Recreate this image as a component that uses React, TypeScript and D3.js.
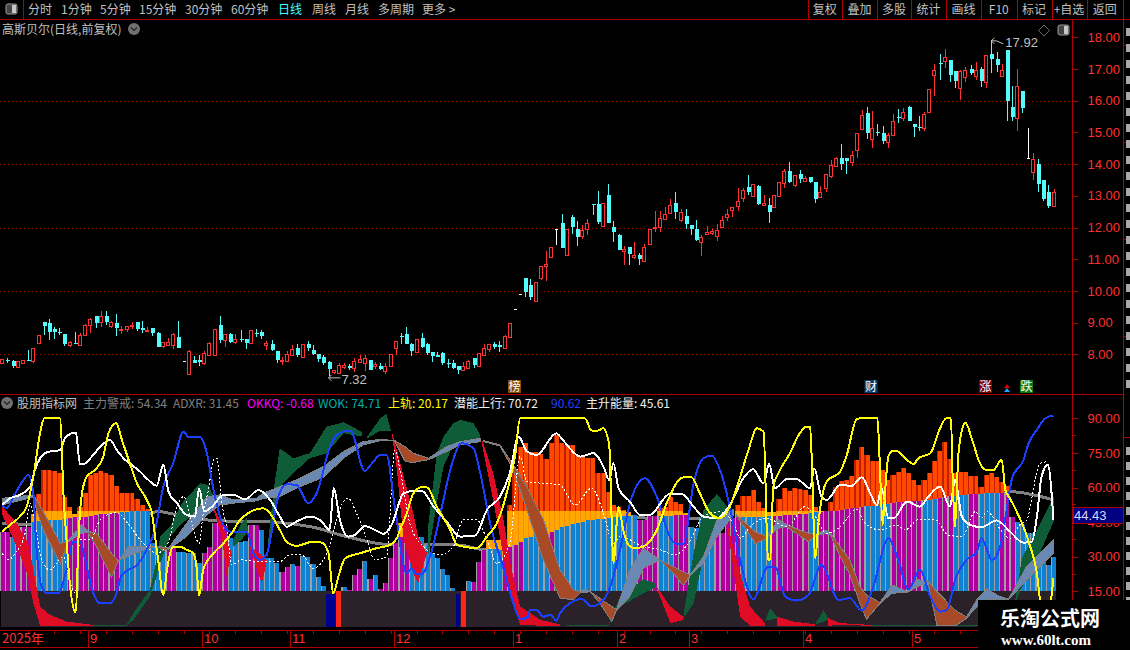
import { useEffect, useRef } from 'react'
import * as d3 from 'd3'

type Pt = [number, number]
type BandPt = [number, number, number]

// open, close, high, low
const candles: number[][] = [
  [7.71,7.84,7.84,7.71],[7.81,7.79,7.88,7.73],[7.79,7.63,7.82,7.58],[7.61,7.79,7.79,7.61],[7.73,7.81,7.81,7.69],
  [7.82,7.80,8.14,7.79],[7.79,8.19,8.19,7.74],[8.36,8.61,8.61,8.36],[9.01,8.89,9.01,8.61],[8.99,8.71,9.12,8.45],
  [8.80,8.71,8.85,8.48],[8.70,8.68,8.82,8.61],[8.64,8.32,8.64,8.27],[8.29,8.39,8.42,8.23],[8.35,8.32,8.71,8.31],
  [8.29,8.60,8.66,8.29],[8.62,8.92,8.95,8.62],[8.91,9.11,9.14,8.68],[9.20,8.99,9.20,8.83],[9.02,9.20,9.37,8.86],
  [9.20,9.02,9.37,8.93],[8.89,9.02,9.05,8.83],[8.99,8.83,9.27,8.58],[8.78,8.80,8.89,8.64],[8.80,8.88,8.88,8.71],
  [8.88,8.93,9.02,8.80],[9.02,8.80,9.02,8.74],[8.83,8.77,9.05,8.67],[8.74,8.78,8.85,8.74],[8.83,8.67,8.83,8.58],
  [8.67,8.23,8.70,8.23],[8.26,8.39,8.39,8.20],[8.29,8.39,8.52,8.29],[8.29,8.64,8.67,8.17],[8.55,8.20,9.05,8.20],
  [7.78,7.78,7.78,7.78],[7.39,8.09,8.12,7.39],[7.82,7.73,7.95,7.73],[7.82,7.76,7.98,7.63],[7.73,8.04,8.10,7.66],
  [7.98,8.36,8.39,7.98],[7.98,8.80,8.80,7.98],[8.93,8.45,9.21,8.36],[8.45,8.64,8.64,8.23],[8.64,8.39,8.67,8.36],
  [8.39,8.48,8.64,8.33],[8.48,8.45,8.77,8.39],[8.48,8.36,8.48,8.17],[8.36,8.77,8.77,8.36],[8.67,8.64,8.80,8.55],
  [8.71,8.58,8.77,8.48],[8.29,8.36,8.42,8.14],[8.33,8.14,8.45,8.10],[8.10,7.82,8.10,7.73],[7.80,7.82,7.90,7.66],
  [7.79,8.01,8.11,7.76],[7.99,8.16,8.29,7.98],[8.20,7.98,8.33,7.92],[7.92,8.33,8.33,7.92],[8.33,8.20,8.42,8.11],
  [8.14,8.01,8.29,7.98],[8.01,7.85,8.01,7.76],[7.92,7.73,7.98,7.66],[7.76,7.54,7.79,7.32],[7.44,7.50,7.50,7.39],
  [7.41,7.66,7.72,7.41],[7.60,7.67,7.72,7.53],[7.63,7.57,7.69,7.50],[7.57,7.79,7.88,7.44],[7.76,7.85,7.98,7.76],
  [7.73,7.88,7.98,7.47],[7.82,7.50,7.82,7.50],[7.63,7.69,7.76,7.54],[7.63,7.54,7.72,7.50],[7.47,7.63,7.72,7.38],
  [7.63,8.01,8.01,7.63],[8.20,8.42,8.42,7.98],[8.58,8.56,8.67,8.33],[8.64,8.33,8.86,8.33],[8.33,8.11,8.35,7.95],
  [8.07,8.48,8.48,8.07],[8.51,8.23,8.67,8.20],[8.33,8.04,8.36,7.98],[8.07,7.95,8.07,7.76],[7.98,7.92,8.07,7.92],
  [8.04,7.73,8.06,7.66],[7.74,7.71,7.85,7.57],[7.73,7.57,7.82,7.54],[7.63,7.50,7.63,7.38],[7.50,7.63,7.76,7.50],
  [7.57,7.79,7.82,7.57],[7.88,7.66,7.88,7.57],[7.63,8.04,8.04,7.60],[7.98,8.20,8.33,7.98],[8.17,8.33,8.33,8.07],
  [8.33,8.23,8.39,8.17],[8.29,8.23,8.42,8.07],[8.20,8.58,8.61,8.20],[8.55,8.99,8.99,8.52],[9.42,9.42,9.42,9.42],
  [9.89,9.89,9.89,9.89],[10.41,9.97,10.41,9.81],[10.19,9.81,10.38,9.71],[9.68,10.28,10.28,9.68],[10.41,10.79,10.79,10.34],
  [10.77,10.85,11.26,10.31],[11.07,11.39,11.39,11.07],[11.94,11.94,11.94,11.45],[12.14,11.35,12.43,11.35],[11.13,11.95,11.95,11.13],
  [12.33,12.02,12.40,11.80],[11.95,11.70,12.21,11.42],[11.73,11.92,12.08,11.64],[11.95,12.14,12.27,11.76],[12.74,12.72,12.74,12.40],
  [12.74,12.17,13.15,12.11],[12.05,12.77,12.77,12.05],[13.03,12.14,13.37,12.14],[12.02,11.86,12.21,11.54],[11.76,11.29,11.79,11.29],
  [11.27,11.31,11.42,10.82],[11.39,11.17,11.39,10.82],[11.07,11.12,11.54,11.01],[11.13,11.01,11.20,10.82],[10.94,11.39,11.48,10.94],
  [11.48,11.95,11.95,11.48],[11.99,12.02,12.52,11.86],[12.02,12.30,12.52,11.86],[12.27,12.43,12.65,12.27],[12.46,12.71,12.90,12.44],
  [12.77,12.49,13.12,12.27],[12.24,12.49,12.58,12.17],[12.36,12.11,12.58,11.95],[12.08,11.95,12.08,11.76],[11.95,11.61,12.24,11.58],
  [11.54,11.70,11.76,11.10],[11.80,11.86,12.05,11.80],[11.83,11.89,11.95,11.76],[11.73,11.92,12.11,11.58],[12.02,12.24,12.36,11.99],
  [12.33,12.43,12.58,12.21],[12.55,12.64,12.64,12.33],[12.68,12.84,13.25,12.52],[12.93,13.18,13.25,12.81],[13.28,13.12,13.66,13.03],
  [13.00,13.37,13.37,12.97],[13.31,12.74,13.34,12.71],[12.71,12.76,13.03,12.68],[12.71,12.49,12.93,12.14],[12.65,13.03,13.03,12.62],
  [12.99,13.44,13.44,12.99],[13.40,13.78,13.85,13.25],[13.78,13.44,14.07,13.40],[13.34,13.65,13.65,13.28],[13.69,13.53,13.81,13.40],
  [13.48,13.56,13.63,13.48],[13.59,13.44,13.60,13.40],[13.44,12.90,13.44,12.77],[12.97,13.11,13.31,12.97],[13.26,13.69,13.69,13.12],
  [13.63,13.97,14.13,13.56],[13.94,14.19,14.22,13.94],[14.19,14.00,14.64,13.81],[14.19,14.10,14.19,13.69],[14.07,14.29,14.41,13.94],
  [14.45,14.98,14.98,14.19],[15.11,15.55,15.71,15.11],[15.61,14.98,15.80,14.79],[14.79,15.14,15.68,14.51],[15.01,14.98,15.27,14.89],
  [14.98,14.73,15.20,14.64],[14.71,14.92,14.98,14.51],[14.92,15.36,15.58,14.92],[15.50,15.47,15.74,15.30],[15.46,15.64,15.77,15.36],
  [15.80,15.36,15.83,15.36],[15.27,15.17,15.27,14.86],[15.17,15.14,15.52,15.05],[15.14,15.58,15.64,15.05],[15.64,16.37,16.37,15.61],
  [16.81,16.97,17.16,16.15],[17.19,17.16,17.47,16.65],[17.25,17.38,17.63,17.03],[17.29,16.81,17.29,16.59],[16.94,16.62,16.94,16.40],
  [16.40,16.94,16.97,16.02],[16.75,16.97,17.06,16.59],[17.00,16.87,17.13,16.81],[16.78,16.97,17.22,16.65],[17.00,16.62,17.06,16.43],
  [16.59,17.44,17.44,16.40],[17.47,17.32,17.92,16.87],[17.32,17.13,17.54,16.91],[16.78,16.97,17.16,16.78],[17.60,15.99,17.60,15.36],
  [15.80,15.49,16.46,15.36],[15.46,16.46,17.00,15.05],[16.31,15.77,16.31,15.61],[14.18,14.18,15.13,14.18],[13.75,14.16,14.35,13.50],
  [14.00,13.37,14.16,13.12],[13.50,12.90,13.50,12.84],[13.12,12.68,13.34,12.62],[12.68,13.12,13.22,12.68],
]

const priceTicks = [8, 9, 10, 11, 12, 13, 14, 15, 16, 17, 18]
const priceGrid = [8, 10, 12, 14, 16]
const indTicks = [15, 30, 45, 60, 75, 90]
const indMinorTicks = [22.5, 37.5, 52.5, 67.5, 82.5]

// lower pane histogram, one value per day
const columnValues = [
  40.9,40.9,38.7,43,43,43,45.2,45.6,45.9,45.9,46,46.1,46.2,46.7,47,47.2,47.4,47.8,48,48.3,
  48.6,48.8,49,49.3,49.5,49.6,49.7,49.7,49.7,36,34.6,34,34.4,34.4,32.2,32,31.8,31.5,27.1,31.5,
  34.4,44.5,44.5,43.5,38,37.5,36.5,37,43.8,43.8,41.6,29.3,29.3,27.1,23.5,25.7,26.9,26,30.3,29.8,
  26.9,21.4,17.3,15,15,15,16.8,15.6,22.1,24.6,28.2,20.4,22.1,16,18.8,29.6,35.8,38.7,38,34.4,
  38,38.7,35.1,31.5,29.3,24.6,22.1,16.6,15,15,19.5,19.2,27.6,33,33.2,33.2,33,30,34.4,35.1,
  36.3,38,38.7,39.4,39.9,39.9,40.9,41.6,42.8,43.1,44.2,44.5,45.1,45.7,45.9,46.2,46.5,46.8,47.1,47.4,
  47.7,47.8,48,45.9,45.9,47.6,47.8,47.8,47.8,47.8,48,48,47.9,42.8,42.3,47,47,47,41.6,40.2,
  46.8,46.8,47,47,47.1,47.2,47.3,47.4,47.5,47.6,47.7,47.9,48,48.2,48.4,48.7,49,49.2,49.4,49.6,
  49.7,49.8,50.4,50.6,50.9,51.2,51.5,51.8,52.1,52.4,52.8,53,53.3,53.5,53.7,53.9,54.1,54.3,54.5,54.7,
  55,55.4,55.8,56.2,56.4,56.6,56.8,57,57.2,57.3,57.4,57.5,57.6,57.7,57.9,47.4,45.2,43.8,40.2,40.2,
  30.3,30.3,26.4,30,
]
// m = magenta day, b = blue day
const columnKinds = (
  'mmbmmmbbbbbbbmmmmmmmmmmbbbbbbbbbmmbbbbbmmmmmbbbbmmbbbbmmbmbbbbbbbmbmmmbmbmmmmmmb' +
  'bbbbbbbbbmbmmmbbbmmmmbbbbbmbbbbbbbbbbbbbbbbmmmmbbbmmmbbbbbmmmmmbbbbbbmmmmmmmbbmm' +
  'mmmmmmmbbbbbmmmmmmbbbmmmbbbmmbbbbmmmbbbbbbbbbm'
).split('')

const orangeValues = [
  0,0,0,0,0,0,48.5,57.2,67.6,67.6,67.2,66.2,56,51.7,48.5,51.7,57.5,65.5,66.2,67.3,
  66.5,65.5,60.7,57.8,57.8,57.8,54.9,52.4,50.6,0,0,0,0,0,0,0,0,0,0,0,
  0,0,0,0,0,0,0,0,0,0,0,0,0,0,0,0,0,0,0,0,
  0,0,0,0,0,0,0,0,0,0,0,0,0,0,0,0,0,44.5,44.5,38.7,
  38.7,0,0,0,0,0,0,0,0,0,0,0,0,0,37.3,37.3,37.3,37.3,52.4,67.6,
  77.7,79.5,75.6,75.6,74.6,72.2,79.2,82.8,79.5,78.5,78.5,74.1,73.4,73,73,66.2,66.2,58.2,52.4,51.7,
  50.3,49.5,0,0,0,0,0,51,51.7,55.8,53.9,52.9,48.8,0,0,0,0,0,0,0,
  0,0,52.4,56.3,56.3,58.9,53.9,51,49.5,49.5,55.2,60,58.5,60,59.2,58.9,56.8,51.7,49.8,49.8,
  53.9,60.4,63,63.3,65,72,77.7,74.1,71.7,71.7,67.6,63.3,65.5,66.9,68.3,66.5,63.3,61.1,63.3,66.2,
  71.7,75.9,79.9,72.2,66.2,66.9,66.9,65,65,60.4,65.5,66.2,64.4,62.6,60.7,0,0,0,0,0,
  0,0,0,0,
]
const orangeSplit = 50

const yellowLine: Pt[] = [
  [0,40.9],[1.5,43.8],[3.4,47.4],[4.7,51.7],[6,64.7],[7.3,83.5],[8.1,90],[11.2,90],[11.8,57.5],[12.4,37.3],[13.1,17],[14.2,5.8],
  [14.7,37.3],[15.3,56],[16.3,64.7],[17.9,67.6],[19.5,73.4],[20.5,83.5],[22,87.9],[23.1,80.6],[24.4,72],[26,61.8],[27.9,54.6],
  [28.9,48.8],[29.5,38.7],[30.1,28.6],[31.1,13.4],[31.8,24.3],[33,34.4],[34.3,34.4],[35.6,33],[36.9,31.5],[37.5,25.7],[38,13],
  [38.8,24.3],[40.8,31.5],[42.7,35.8],[44.3,40.2],[45.9,45.9],[50.4,51],[51.7,48.8],[53.6,41.6],[54.9,36.5],[56.8,34.7],[60,36.5],
  [61.7,36.1],[63,31.5],[63.9,14],[64.9,21.4],[66.2,29.3],[69.1,31.5],[72.3,33.7],[74.9,35.1],[76.2,38],[76.8,41.6],[78.1,48.8],
  [79.4,57.5],[81,60.1],[82,60.1],[83.9,51.7],[86.5,41.6],[87.8,35.1],[91.6,33.7],[93.6,38.7],[95.5,44.5],[98.1,64],[99,73.4],
  [100,90],[107.7,90],[112.5,90],[113.8,84.7],[115.1,84.7],[116,85.7],[117.2,78.5],[117.7,44.5],[118,27.2],[119,51.7],[119.9,41.6],
  [120.9,35.1],[122.2,33.7],[123.8,34.4],[126.4,41.6],[128.3,53.2],[131.5,64.4],[133.1,64.4],[134.7,57.5],[136.7,48.8],[138.6,46.7],
  [140.5,51.7],[142.5,64.7],[144.1,76.3],[145.7,85.7],[147,84.2],[147.9,28.6],[148.3,28.6],[148.9,60.4],[150.2,67.6],[152.1,74.9],
  [154,83.5],[155.3,86.4],[156,86.4],[156.3,73.4],[157,29.3],[157.6,44.5],[158.6,58.9],[159.2,62.6],[161.8,66.9],[163,73.4],[165,89.6],
  [166,90],[169,90],[169.4,73.4],[170,43.8],[170.5,59],[171.1,73.4],[172.1,76],[173,75.6],[174.7,72],[176,70.2],[176.9,72.7],[179.2,74.8],
  [181.1,85.7],[182.3,90],[183.2,90],[183.5,66.2],[184,43],[184.6,73.4],[185,81.3],[186,88.1],[187.2,81.3],[188.8,70.5],[190.1,67.6],
  [191.4,67.6],[193,72],[193.7,58.9],[194.6,55.3],[195.9,49.5],[197.2,43],[198.5,34.4],[199.8,22.8],[200.4,11.3],[201.7,2.6],[203,20.7],
]

const whiteLine: Pt[] = [
  [0,52.4],[1.5,55.3],[3.4,56.8],[5.4,60.4],[6.3,67.6],[7.3,72.7],[8.6,75.3],[11.2,76.3],[12.1,81.3],[13.4,83.5],[14.2,83.8],[15,70.2],
  [15.7,70.2],[17.3,73.4],[18.9,77.7],[20.8,80.6],[22.1,76.3],[23.4,72.7],[25,69.8],[26.6,66.9],[28.2,63.3],[29.8,60.8],[31.1,69.8],
  [32.1,58.2],[33.7,53.2],[35.6,48.1],[37.2,47.4],[38,59.7],[39,49.6],[40.5,51.7],[42.7,56.8],[44.6,56.8],[46.9,54.9],[49.5,58.9],
  [51.7,54.6],[53.6,47.4],[54.9,43],[56.8,45.2],[59.4,47.4],[61.7,45.2],[63.2,41.6],[64,59.7],[65.2,45.9],[66.8,38.7],[68.1,39.4],
  [70,43.3],[72,41.6],[73.6,39.9],[75.2,43.8],[77.5,57.5],[79.4,58.5],[81,58.5],[83.3,51.7],[85.8,45.2],[88.4,38.7],[91.3,39.2],
  [93.6,50.3],[96.1,56],[98,66.2],[99.7,82.1],[101.3,75.6],[103.2,74.1],[107,83.5],[107.7,82.1],[109.6,77],[111.6,73.4],[114.1,74.9],
  [116.1,69],[117.2,63.3],[118,70.5],[119,59.7],[121.2,53.9],[123.2,48.1],[125,48.1],[128.9,57.2],[131.2,57.2],[133.5,51.7],[135.4,47.4],
  [138,46.7],[140.5,52.4],[143.1,64],[145,67.9],[147,61.8],[148.1,70.2],[149.2,59.7],[151.5,63.6],[153.4,63.6],[156,59.7],[156.8,68.3],
  [158.2,56],[159.2,54.6],[161.8,61.1],[164,60.7],[166,64.4],[167.6,57.5],[168.9,52.4],[169.8,59.7],[171.1,46.7],[172.1,46.7],[174.7,53.9],
  [177.2,51.7],[178.8,56],[181.1,60.4],[183,51.7],[184,63.3],[185.3,47.4],[186.9,43.8],[189.1,42.8],[192,45.7],[194.6,40.9],[197.2,36.1],
  [198.8,36.5],[199.8,47.4],[200.7,64.7],[201.9,69.8],[203,45.9],
]

const blueLine: Pt[] = [
  [0,52.4],[0.8,51],[2.5,57.5],[4.1,63.3],[5,65.5],[6,57.5],[6.5,37.3],[7.6,17],[8.6,14.2],[10.8,14.2],[12.4,24.3],[13.7,36.5],[15,36.5],
  [16,28.6],[17.6,14.2],[18.9,9.8],[20.8,9.8],[21.8,12.7],[23.1,22.1],[24.4,24.3],[26,26.4],[28.2,34.4],[29.5,41.6],[31.1,60.4],[33,70.5],
  [35,84.2],[36,81.8],[38.2,81.8],[39.5,74.8],[40.8,58.9],[42.4,45.2],[44,40.9],[47.2,40.9],[48.5,31.5],[49.8,28.6],[51.1,31.5],[53.3,56],
  [54.9,61.4],[56.8,61.1],[59.1,53.2],[60.7,57.5],[63.3,77.7],[64.6,82.8],[67.2,84.7],[70,67.2],[71.3,70.2],[73,74.1],[74.2,74.1],[75.8,51.7],
  [78.1,22.8],[79,25],[80,22.4],[81,22.4],[82.6,30],[84.9,51.7],[86.5,67.6],[88.7,79.2],[91,77],[92.3,66.2],[94.5,41.6],[96.5,27.2],[98.7,9.8],
  [100,2.9],[101.6,4],[101.9,6.9],[103.2,6.9],[104.5,4],[105.8,4.8],[107,2.3],[107.7,5.5],[109.6,9.8],[111.9,11.6],[113.8,8.4],[116.1,11.3],
  [117.4,17],[119.3,33],[121.2,53.2],[124.1,64],[126.4,56],[128.9,38.7],[130.2,35.5],[131.5,35.5],[133.5,61.8],[135.4,72.7],[137,73.8],
  [138.6,67.6],[140.5,51.7],[142.5,28.6],[145,11.6],[147.9,25.7],[149.2,25.7],[151.2,12.7],[153.4,11],[155.7,13.4],[158.2,26.4],[161.5,11.3],
  [163.7,12],[166,6.6],[168.2,17],[171.1,38],[173,28.6],[175,15.9],[177.2,24.3],[179.2,12.7],[181.1,6.2],[182.4,6.9],[184,20],[186.2,28.6],
  [188.2,32.2],[189.1,38],[191.1,28.6],[192.7,34.4],[193.7,46.7],[195,64],[197.2,72],[198.2,79.2],[199.8,85],[201.4,90],[203,91.2],
]

const dashLine: Pt[] = [
  [0,31.5],[1.2,28.6],[2.5,31.5],[4.4,40.2],[5.4,53.2],[6.3,44.5],[7.6,28.6],[9.2,24.3],[11.8,30],[12.8,21.4],[14.1,14.2],[15,37.3],[17,37.3],
  [18.9,46],[22.1,49.1],[24.7,43],[27.2,35.8],[29.8,31.5],[32.1,36.5],[33.7,51.7],[35,56],[36.9,41.6],[38,35.8],[38.8,48.8],[39.8,58.9],[40.8,72],
  [41.4,72.7],[42.4,53.2],[43.4,41.6],[44.3,26.4],[46.2,28.6],[49.8,27.9],[53.6,27.9],[55.6,30.8],[57.8,30.8],[60,25],[62,28.6],[63.9,40.2],
  [64.9,48.8],[66.8,55.3],[68.4,48.8],[70,40.2],[72,28.6],[74.2,30],[75.8,76.3],[76.8,67.6],[78.7,44.5],[81.3,34.4],[84.5,30.8],[87.1,34.4],
  [89,46],[91.6,46],[93.6,37.3],[95.5,27.2],[98,35.8],[100,73.4],[101.3,62.6],[107.7,61.1],[110.6,52.4],[113.8,59.7],[116.1,48.8],[118,35.8],
  [119.3,38.7],[123.8,34.4],[127,33],[129.9,30.8],[132.5,35.8],[135.4,47.4],[138.6,49.5],[141.2,44.5],[142.5,38],[144.4,43],[147.6,46.7],
  [151.5,43],[155,51.7],[156.6,48.8],[159.2,40.2],[161.8,43],[165,50.6],[166.6,44.5],[169.5,41.6],[172.7,43.8],[174.3,41.6],[176.9,46],[180.1,46],
  [182.7,39.4],[185.3,38.7],[187.9,49.5],[189.1,46.7],[190.1,49.5],[193.3,40.2],[194.6,38],[196.5,43.8],[197.8,45.9],[200.4,70.5],[202,71.2],
]

const greyLine: Pt[] = [
  [0,44.5],[6,44],[18.9,45],[28,48],[30,49.6],[33,48.5],[40.8,45.7],[53,44.9],[60,42.8],[66.5,38.7],[75.5,35.1],[87.8,35.1],[93.6,32.9],[100,34.4],
  [107.7,40.2],[122.5,46.8],[134.7,46.6],[147.6,46],[161.8,48],[181,54],[192,57],[194.6,58.2],[203,54.6],
]

// cloud pieces: day, top value, bottom value
const steelBands: BandPt[][] = [
  [[0,55.3,52.4],[6,56.8,55.8],[6.3,56,55]],
  [[12.8,37.3,36.5],[15.3,43.8,40.2],[16.6,40.9,40.5]],
  [[22.4,28.2,28.2],[24.4,34.4,30.3],[28.2,34.4,33.7],[30.1,34.4,34.4]],
  [[32.1,33.7,33.2],[35.6,44.5,38.7],[39.5,56,48.1],[42.1,56.8,52.4],[44.6,54.6,53.2],[49.1,55.3,54.2],[50.4,57.5,55.3],[53.6,60.4,56],
   [57.5,64,60.4],[62,69.1,64.4],[65.9,75.6,72.7],[69.7,79.9,78.5],[73,80.9,80.3],[75.8,80.3,80.3]],
  [[82.3,72.7,72],[85.8,77.7,75.6],[88.4,79.9,78.5],[92.3,81.3,79.9]],
  [[111.6,14.9,14.4],[112.5,15.9,14.4],[113.5,14.9,14.9]],
  [[118.6,7.2,6.9],[121.2,24.3,12.7],[123.8,33.7,25],[127,28.6,28.6]],
  [[132.8,22.1,21.8],[135.4,30,27.2],[138,45.9,38.7],[141.2,50.6,48.1]],
  [[147.6,38.7,38],[149.9,46,42.3],[151.5,43.8,43]],
  [[157.3,39.9,39.4],[158.9,41.6,39.9],[159.9,40.2,39.7]],
  [[169.5,10.1,9.8],[171.8,17.8,14.2],[174.7,14.9,14.4],[176.6,20,17],[178.6,19.6,18.8]],
  [[186.2,3.8,3.3],[188.2,11.3,8.4],[190.1,16,11.6],[192.7,12.7,11.3],[194.3,11.6,11.3]],
  [[194.3,11.6,11.3],[197.8,25.7,20],[200.4,31.5,25.7],[203,37.3,31.5]],
]

const brownBands: BandPt[][] = [
  [[6.3,56,52.4],[7.9,49.6,41.6],[11.2,35.8,26.9],[12.4,36.5,34.4]],
  [[16.6,40.9,40.2],[18.2,40.2,34.4],[21.1,31.5,21.1],[22.4,28.2,28.2]],
  [[30.1,34.4,34.4],[31.1,34.1,32.6],[32.1,33.7,33.7]],
  [[75.8,80.3,80],[77.8,77.7,71.2],[79.4,74.8,70.9],[82.3,72.7,72]],
  [[92.9,80.3,79.9],[96.1,78.5,78],[98.7,69.8,67.6],[101.3,60.4,50.3],[104.5,46,28.6],[107.7,24.3,12],[110.3,15.6,11.3],[111.6,14.9,14.4]],
  [[113.5,14.9,14.9],[115.4,12,9.8],[117.7,8.4,1.9],[118.6,7.2,6.9]],
  [[127,28.6,28.6],[129.6,25.7,22.8],[131.5,23.5,17.5],[132.8,22.1,21.8]],
  [[141.8,48.1,47.7],[145,41.6,37.3],[145.4,40.9,35.5],[147.6,38.7,38]],
  [[151.5,43.8,43],[154.7,40.9,38],[155.7,40.2,36.5],[157.3,39.9,39.4]],
  [[159.9,40.2,39.7],[161.8,34.4,30],[163.7,28.6,22.1],[165.6,17,9.8],[166.9,13.4,2.9],[169.5,10.1,9.8]],
  [[178.8,19.2,18.5],[180.5,14.9,0],[184,6.9,0],[186.2,3.8,3.3]],
]

const redBands: BandPt[][] = [
  [[0,51.7,48.1],[2.8,44.5,34.4],[5,35.8,21.4],[6,24.3,9.8],[7.3,8.4,0.1],[9.2,4.8,0.1],[12.4,1.9,0.1],[17.6,0.4,0.1]],
  [[40.8,51.7,50.3],[42.4,44.5,38.7],[43.3,38,22.1],[44.3,31.5,30.8]],
  [[47.8,34.4,33.7],[50.1,30.8,18.5],[51.1,28.6,27.9]],
  [[75.2,84.2,83.5],[76.2,76.3,67.6],[77.5,64.7,37.3],[79.4,48.8,22.8],[80.3,38.7,18.5],[82,31.5,31.5]],
  [[92.6,81.3,79.2],[94.8,66.2,54.6],[96.8,46,30],[98.1,27.2,12.7],[100,8.4,0.4],[103.9,2.6,0.1],[107.7,0.7,0.1]],
  [[126.4,16.8,16.3],[129,8.4,1.2],[131.5,4,2.6]],
  [[139.9,45.2,44.5],[142.5,22.8,4],[144.4,8.4,0.1],[147.3,1.1,0.1]],
  [[149.6,4,0.1],[152.8,1.9,0.1],[157,0.7,0.1]],
  [[159.5,3.3,0.1],[161.8,1.2,0.3],[167.9,0.4,0.1]],
]

const greenBands: BandPt[][] = [
  [[17.6,0.4,0.1],[24,0.4,0.1],[25.3,5.5,2.6],[28.5,15.6,12.7],[29.8,28.6,21.4],[30.5,38.7,27.2],[32.4,43,38.7],[34.7,53.2,44.5],[38.2,61.8,50.3],[39.8,61.1,51.7],[40.8,56,52.4]],
  [[44.6,37.3,34.4],[46.2,44.5,37.3],[47.2,46.7,40.2],[47.5,40.2,39.9]],
  [[51.1,31.5,28.6],[52.4,59,44.5],[53.6,77,60.4],[56.2,72.7,66.2],[59.4,74.9,72.7],[62.6,86.4,74.8],[65.9,88.3,83.5],[69.4,84.2,82.1]],
  [[70.5,82.1,81.3],[73,90,84.7],[74.2,91.9,84.7],[75,85,84.7]],
  [[82.3,44.5,31.5],[83.9,74.8,53.2],[85.2,82,69],[87.1,87.9,78.5],[88.4,89.3,79.9],[91,87.9,80.6],[92.3,82.8,81.3]],
  [[109,0.4,0.1],[117,0.4,0.1],[119.3,12.7,8.4],[123.8,20.2,14.2],[126.1,18.5,16.8]],
  [[131.5,3.8,3.3],[133.5,31.5,9.8],[135.4,50.3,30],[138,57.2,45.9],[140.5,50.3,46.7]],
  [[147.3,2.3,2.3],[148.3,7.6,2.6],[149.6,4,3.3]],
  [[157,0.7,0.7],[158.6,6.9,1.9],[159.5,3.3,2.6]],
  [[167.9,0.4,0.1],[188.5,0.4,0.1]],
  [[195.6,11.3,9.8],[196.9,29.3,17],[199.8,41.6,28.6],[203,56,45.2]],
]

const blueSignals = [63, 64, 88]
const redSignals = [65, 89]

const monthLabels = ['9', '10', '11', '12', '1', '2', '3', '4', '5']
const monthDays = [17, 39, 56, 76, 99, 119, 133, 155, 176]

const periodTabs = ['分时', '1分钟', '5分钟', '15分钟', '30分钟', '60分钟', '日线', '周线', '月线', '多周期', '更多 >']
const periodX = [28, 61, 100, 139, 185, 231, 278, 312, 345, 378, 422]
const toolTabs = ['复权', '叠加', '多股', '统计', '画线', 'F10', '标记', '+自选', '返回']
const toolSeps = [807.5, 842, 877, 911, 946, 981, 1016.5, 1051.5, 1086.5, 1123]

const headerTexts = ['股朋指标网', '主力警戒: 54.34', 'ADXR: 31.45', 'OKKQ: -0.68', 'WOK: 74.71', '上轨: 20.17', '潜能上行: 70.72', '90.62', '主升能量: 45.61']
const headerX = [17, 83, 173, 247, 318, 388, 454, 551, 586]
const headerColors = ['#c0c0c0', '#808080', '#808080', '#ff00ff', '#00b0b0', '#ffff00', '#f0f0f0', '#2040ff', '#f0f0f0']

const eventLabels = ['榜', '财', '涨', '跌']
const eventX = [514.5, 871, 985.5, 1026.5]
const eventColors = ['#8a4a00', '#0a3a6a', '#800000', '#0a7a0a']

const FONT = '"Noto Sans CJK SC", "Liberation Sans", sans-serif'
const AXIS_RED = '#b00000'
const TEXT_RED = '#ff3030'

export default function App() {
  const svgRef = useRef<SVGSVGElement>(null)

  useEffect(() => {
    if (!svgRef.current) return
    renderChart()
  }, [])

  const renderChart = () => {
    const svg = d3.select(svgRef.current!)
    svg.selectAll('*').remove()

    const x = d3.scaleLinear().domain([0, 203]).range([2.3, 1053.5])
    const yPrice = d3.scaleLinear().domain([8, 18]).range([354.3, 37.3])
    const yInd = d3.scaleLinear().domain([15, 90]).range([591.3, 418.3])
    const barW = x(1) - x(0)

    const defs = svg.append('defs')
    defs.append('clipPath').attr('id', 'pane').append('rect')
      .attr('x', 0).attr('y', 395).attr('width', 1072).attr('height', 232.5)

    svg.append('rect').attr('width', 1130).attr('height', 650).attr('fill', '#000')

    // Price gridlines
    svg.append('g').attr('shape-rendering', 'crispEdges').selectAll('line').data(priceGrid).join('line')
      .attr('x1', 0).attr('x2', 1072)
      .attr('y1', d => Math.round(yPrice(d)) + 0.5).attr('y2', d => Math.round(yPrice(d)) + 0.5)
      .attr('stroke', '#a00000').attr('stroke-dasharray', '1,3')

    // Candles
    const cg = svg.append('g').attr('shape-rendering', 'crispEdges')
    candles.forEach((c, i) => {
      const [o, cl, h, l] = c
      const cx = Math.round(x(i))
      const color = cl > o ? '#ff3232' : cl < o ? '#54fcfc' : '#ffffff'
      cg.append('line')
        .attr('x1', cx + 0.5).attr('x2', cx + 0.5)
        .attr('y1', yPrice(h)).attr('y2', yPrice(l))
        .attr('stroke', color)
      const top = Math.round(yPrice(Math.max(o, cl)))
      const bot = Math.round(yPrice(Math.min(o, cl)))
      if (cl > o) {
        cg.append('rect')
          .attr('x', cx - 1.5).attr('y', top + 0.5)
          .attr('width', 3).attr('height', Math.max(bot - top, 1))
          .attr('fill', '#000').attr('stroke', color)
      } else if (cl < o) {
        cg.append('rect')
          .attr('x', cx - 1.5).attr('y', top)
          .attr('width', 4).attr('height', Math.max(bot - top, 1))
          .attr('fill', color)
      } else {
        cg.append('rect')
          .attr('x', cx - 1.5).attr('y', top)
          .attr('width', 3).attr('height', 1)
          .attr('fill', color)
      }
    })

    // Lower pane
    const pane = svg.append('g').attr('clip-path', 'url(#pane)')
    const crisp = pane.append('g').attr('shape-rendering', 'crispEdges')

    crisp.append('rect')
      .attr('x', x(0) - 1).attr('width', x(203) + 2 - x(0) + 1)
      .attr('y', yInd(15)).attr('height', yInd(-0.5) - yInd(15))
      .attr('fill', '#2a2228')

    const lineGen = d3.line<Pt>()
      .x(d => x(d[0]))
      .y(d => yInd(d[1]))
      .curve(d3.curveMonotoneX)

    crisp.append('path').datum(greyLine)
      .attr('d', lineGen).attr('fill', 'none')
      .attr('stroke', '#808080').attr('stroke-width', 3)

    columnValues.forEach((v, i) => {
      if (v <= 15) return
      const bx = x(i) - barW / 2
      const isBlue = columnKinds[i] === 'b'
      crisp.append('rect')
        .attr('x', bx).attr('width', barW)
        .attr('y', yInd(v)).attr('height', yInd(15) - yInd(v))
        .attr('fill', '#a0a0a0')
      crisp.append('rect')
        .attr('x', bx + 1.2).attr('width', barW - 1.2)
        .attr('y', yInd(v)).attr('height', yInd(15) - yInd(v))
        .attr('fill', isBlue ? '#1080d0' : '#b000a0')
    })

    orangeValues.forEach((v, i) => {
      const base = columnValues[i]
      if (v <= base) return
      const bx = x(i) - barW / 2
      const mid = Math.max(base, Math.min(v, orangeSplit))
      crisp.append('rect')
        .attr('x', bx).attr('width', barW)
        .attr('y', yInd(mid)).attr('height', yInd(base) - yInd(mid))
        .attr('fill', '#ff8c00')
      crisp.append('rect')
        .attr('x', bx + 1).attr('width', barW - 1)
        .attr('y', yInd(mid)).attr('height', yInd(base) - yInd(mid))
        .attr('fill', '#ffa800')
      if (v > orangeSplit) {
        const low = Math.max(base, orangeSplit)
        crisp.append('rect')
          .attr('x', bx).attr('width', barW)
          .attr('y', yInd(v)).attr('height', yInd(low) - yInd(v))
          .attr('fill', '#c02000')
        crisp.append('rect')
          .attr('x', bx + 1.4).attr('width', barW - 1.4)
          .attr('y', yInd(v)).attr('height', yInd(low) - yInd(v))
          .attr('fill', '#ff4a00')
      }
    })

    blueSignals.forEach(i => {
      crisp.append('rect')
        .attr('x', x(i) - 2.4).attr('width', 4.6)
        .attr('y', yInd(13.8)).attr('height', yInd(-0.5) - yInd(13.8))
        .attr('fill', '#000090')
    })
    redSignals.forEach(i => {
      crisp.append('rect')
        .attr('x', x(i) - 2.6).attr('width', 5.2)
        .attr('y', yInd(15)).attr('height', yInd(-0.5) - yInd(15))
        .attr('fill', '#ff2418')
    })

    const bandGen = d3.area<BandPt>()
      .x(d => x(d[0]))
      .y0(d => yInd(d[2]))
      .y1(d => yInd(d[1]))

    const drawBands = (pieces: BandPt[][], fill: string, edge: string | null) => {
      pieces.forEach(p => {
        crisp.append('path').datum(p)
          .attr('d', bandGen)
          .attr('fill', fill)
          .attr('stroke', edge ?? 'none')
      })
    }
    drawBands(greenBands, '#0e5c38', null)
    drawBands(redBands, '#e00c26', null)
    drawBands(steelBands, '#6a88b4', '#808080')
    drawBands(brownBands, '#a84a28', '#808080')

    crisp.append('path').datum(dashLine)
      .attr('d', lineGen).attr('fill', 'none')
      .attr('stroke', '#ffffff').attr('stroke-width', 1).attr('stroke-dasharray', '2,2')
    crisp.append('path').datum(blueLine)
      .attr('d', lineGen).attr('fill', 'none')
      .attr('stroke', '#1c40ff').attr('stroke-width', 2)
    crisp.append('path').datum(whiteLine)
      .attr('d', lineGen).attr('fill', 'none')
      .attr('stroke', '#ffffff').attr('stroke-width', 2)
    crisp.append('path').datum(yellowLine)
      .attr('d', lineGen).attr('fill', 'none')
      .attr('stroke', '#ffff00').attr('stroke-width', 2)

    // Frame
    const frame = svg.append('g').attr('shape-rendering', 'crispEdges').attr('stroke', AXIS_RED)
    const hLine = (x1: number, x2: number, y: number) =>
      frame.append('line').attr('x1', x1).attr('x2', x2).attr('y1', y + 0.5).attr('y2', y + 0.5)
    const vLine = (xp: number, y1: number, y2: number) =>
      frame.append('line').attr('x1', xp + 0.5).attr('x2', xp + 0.5).attr('y1', y1).attr('y2', y2)
    hLine(0, 1130, 19)
    hLine(0, 1123, 394)
    hLine(0, 1123, 630)
    hLine(0, 1130, 647)
    vLine(1072, 19, 630)
    vLine(1123, 0, 650)
    vLine(23, 0, 19)
    toolSeps.forEach(s => vLine(s, 0, 19))
    ;[45, 142, 239, 336, 437].forEach(y => hLine(1123, 1130, y))

    // Cropped quote list at the right edge
    const stripRows = d3.range(28, 390, 16).concat(d3.range(447, 600, 15))
    svg.append('g').attr('shape-rendering', 'crispEdges').selectAll('rect').data(stripRows).join('rect')
      .attr('x', 1126).attr('y', d => d).attr('width', 4).attr('height', 8)
      .attr('fill', '#a8a8a8')

    // Right axes
    const styleAxis = (g: d3.Selection<SVGGElement, unknown, null, undefined>) => {
      g.select('.domain').remove()
      g.selectAll('.tick line').attr('stroke', AXIS_RED).attr('shape-rendering', 'crispEdges')
      g.selectAll('.tick text')
        .attr('fill', TEXT_RED).attr('font-size', 13)
        .attr('font-family', '"Liberation Sans", sans-serif')
    }
    const priceAxis = d3.axisRight(yPrice)
      .tickValues(priceTicks).tickFormat(d3.format('.2f') as any).tickSize(5).tickPadding(10)
    svg.append('g').attr('transform', 'translate(1072.5,0)').call(priceAxis).call(styleAxis)

    const indAxis = d3.axisRight(yInd)
      .tickValues(indTicks).tickFormat(d3.format('.2f') as any).tickSize(5).tickPadding(10)
    svg.append('g').attr('transform', 'translate(1072.5,0)').call(indAxis).call(styleAxis)
    svg.append('g').selectAll('line').data(indMinorTicks).join('line')
      .attr('x1', 1073).attr('x2', 1076)
      .attr('y1', d => yInd(d)).attr('y2', d => yInd(d))
      .attr('stroke', AXIS_RED).attr('shape-rendering', 'crispEdges')

    // Current value box
    svg.append('rect')
      .attr('x', 1073).attr('y', 507).attr('width', 50).attr('height', 16)
      .attr('fill', '#000080').attr('stroke', AXIS_RED).attr('shape-rendering', 'crispEdges')
    svg.append('text').text('44.43')
      .attr('x', 1074).attr('y', 519.5)
      .attr('fill', '#d8d8ff').attr('font-size', 13).attr('font-family', '"Liberation Sans", sans-serif')

    // Time axis
    const timeG = svg.append('g')
    timeG.append('text').text('2025年')
      .attr('x', 2).attr('y', 643)
      .attr('fill', TEXT_RED).attr('font-size', 13).attr('font-family', FONT)
    monthDays.forEach((d, i) => {
      const mx = Math.round(x(d)) - 2
      frame.append('line').attr('x1', mx + 0.5).attr('x2', mx + 0.5).attr('y1', 630).attr('y2', 647)
      timeG.append('text').text(monthLabels[i])
        .attr('x', mx + 2).attr('y', 643)
        .attr('fill', TEXT_RED).attr('font-size', 13).attr('font-family', '"Liberation Sans", sans-serif')
    })
    d3.range(5, 204, 5).forEach(d => {
      frame.append('line')
        .attr('x1', Math.round(x(d)) + 0.5).attr('x2', Math.round(x(d)) + 0.5)
        .attr('y1', 630).attr('y2', 634)
    })

    // Top toolbar
    const toolbar = svg.append('g').attr('font-family', FONT).attr('font-size', 12)
    periodTabs.forEach((t, i) => {
      toolbar.append('text').text(t)
        .attr('x', periodX[i]).attr('y', 14)
        .attr('fill', t === '日线' ? '#40ffff' : '#c0c0c0')
    })
    toolTabs.forEach((t, i) => {
      toolbar.append('text').text(t)
        .attr('x', (toolSeps[i] + toolSeps[i + 1]) / 2).attr('y', 14)
        .attr('text-anchor', 'middle')
        .attr('fill', '#c0c0c0')
    })
    svg.append('rect')
      .attr('x', 6).attr('y', 4).attr('width', 11).attr('height', 10).attr('rx', 2)
      .attr('fill', '#444').attr('stroke', '#9a9a9a')
    svg.append('rect').attr('x', 12).attr('y', 5).attr('width', 4).attr('height', 8).attr('fill', '#c8c8c8')

    // Title row
    svg.append('text').text('高斯贝尔(日线,前复权)')
      .attr('x', 2).attr('y', 34)
      .attr('fill', '#c0c0c0').attr('font-size', 12).attr('font-family', FONT)
    const chevron = (cx: number, cy: number) => {
      svg.append('circle').attr('cx', cx).attr('cy', cy).attr('r', 6).attr('fill', '#707070')
      svg.append('path')
        .attr('d', `M${cx - 3},${cy - 1.5}L${cx},${cy + 1.5}L${cx + 3},${cy - 1.5}`)
        .attr('fill', 'none').attr('stroke', '#222').attr('stroke-width', 1.2)
    }
    chevron(134, 29)
    chevron(7, 403)

    svg.append('path')
      .attr('d', 'M1044,25L1049.5,30.5L1044,36L1038.5,30.5Z')
      .attr('fill', 'none').attr('stroke', '#6a6a6a')
    svg.append('rect')
      .attr('x', 1058).attr('y', 25).attr('width', 11).attr('height', 10).attr('rx', 2)
      .attr('fill', '#444').attr('stroke', '#9a9a9a')
    svg.append('rect').attr('x', 1064).attr('y', 26).attr('width', 4).attr('height', 8).attr('fill', '#c8c8c8')

    // Lower pane header
    const header = svg.append('g').attr('font-family', FONT).attr('font-size', 12)
    headerTexts.forEach((t, i) => {
      header.append('text').text(t)
        .attr('x', headerX[i]).attr('y', 407.5)
        .attr('fill', headerColors[i])
    })

    // High and low notes
    const note = svg.append('g').attr('fill', '#c0c0c0').attr('font-size', 13)
      .attr('font-family', '"Liberation Sans", sans-serif')
    note.append('text').text('7.32').attr('x', x(63) + 13).attr('y', yPrice(7.32) + 8)
    note.append('path')
      .attr('d', `M${x(63) + 12},${yPrice(7.32) + 2}H${x(63)}M${x(63) + 3},${yPrice(7.32) - 1}L${x(63)},${yPrice(7.32) + 2}L${x(63) + 3},${yPrice(7.32) + 5}`)
      .attr('fill', 'none').attr('stroke', '#c0c0c0')
    note.append('text').text('17.92').attr('x', x(191) + 14).attr('y', yPrice(17.92) + 7)
    note.append('path')
      .attr('d', `M${x(191) + 12},${yPrice(17.92) + 4}L${x(191) + 5},${yPrice(17.92) + 1}H${x(191)}M${x(191) + 3},${yPrice(17.92) - 2}L${x(191)},${yPrice(17.92) + 1}L${x(191) + 3},${yPrice(17.92) + 4}`)
      .attr('fill', 'none').attr('stroke', '#c0c0c0')

    // Event markers
    eventLabels.forEach((t, i) => {
      svg.append('rect')
        .attr('x', eventX[i] - 6.5).attr('y', 380).attr('width', 13).attr('height', 13)
        .attr('fill', eventColors[i])
      svg.append('text').text(t)
        .attr('x', eventX[i]).attr('y', 391)
        .attr('text-anchor', 'middle')
        .attr('fill', '#fff').attr('font-size', 12).attr('font-family', FONT)
    })
    svg.append('path').attr('d', 'M1007,384L1010,388H1004Z').attr('fill', '#e00000')
    svg.append('path').attr('d', 'M1007,388L1010,392H1004Z').attr('fill', '#20a0ff')

    // Watermark
    svg.append('rect').attr('x', 978).attr('y', 600).attr('width', 152).attr('height', 50).attr('fill', '#000')
    svg.append('text').text('乐淘公式网')
      .attr('x', 1050).attr('y', 626).attr('text-anchor', 'middle')
      .attr('fill', '#fff').attr('font-size', 20).attr('font-weight', 700).attr('font-family', FONT)
    svg.append('text').text('www.60lt.com')
      .attr('x', 1046).attr('y', 645).attr('text-anchor', 'middle')
      .attr('fill', '#fff').attr('font-size', 15).attr('font-weight', 700).attr('font-family', '"Liberation Serif", serif')
  }

  return (
    <svg
      ref={svgRef}
      width={1130}
      height={650}
      style={{ position: 'fixed', left: 0, top: 0, background: '#000' }}
    ></svg>
  )
}
